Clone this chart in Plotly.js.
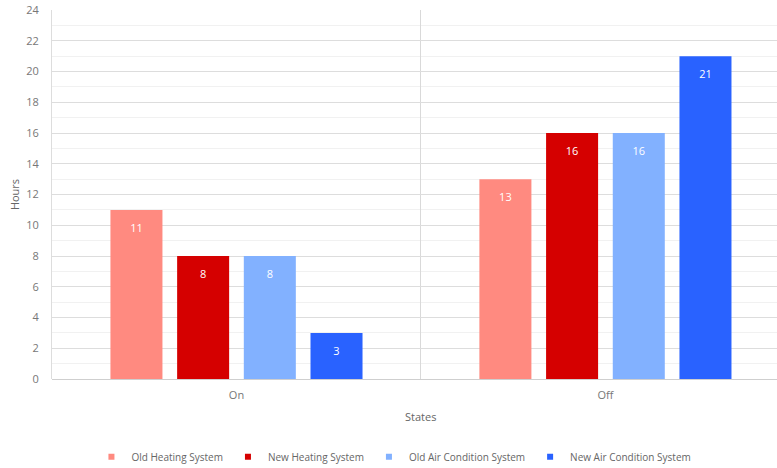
<!DOCTYPE html>
<html>
<head>
<meta charset="utf-8">
<script src="https://cdn.plot.ly/plotly-3.0.1.min.js"></script>
<style>
  html, body { margin: 0; padding: 0; background: #ffffff; overflow: hidden; }
  #chart { width: 777px; height: 468px; }
</style>
</head>
<body>
<div id="chart"></div>
<script>
// Hours spent in each state, per system
const states = ['On', 'Off'];
const seriesNames = ['Old Heating System', 'New Heating System', 'Old Air Condition System', 'New Air Condition System'];
const oldHeating = [11, 13];
const newHeating = [8, 16];
const oldAirCondition = [8, 16];
const newAirCondition = [3, 21];
const seriesColors = ['#ff8a80', '#d50000', '#82b1ff', '#2962ff'];

const seriesValues = [oldHeating, newHeating, oldAirCondition, newAirCondition];

const labelFont = { family: 'Open Sans, sans-serif', size: 11, color: '#ffffff' };
const axisFont = { family: 'Open Sans, sans-serif', size: 11, color: '#777777' };

// a tiny blank first line gives the value labels some room below the bar top
const labelTemplate = '<span style="font-size:5px">&nbsp;</span><br>%{y}';

const barTraces = seriesValues.map((vals, i) => ({
  type: 'bar',
  name: seriesNames[i],
  legendgroup: seriesNames[i],
  showlegend: false,
  x: states,
  y: vals,
  marker: { color: seriesColors[i] },
  texttemplate: labelTemplate,
  textposition: 'inside',
  insidetextanchor: 'end',
  textfont: labelFont,
  hoverinfo: 'x+y+name'
}));

// small square swatches for the legend
const legendTraces = seriesNames.map((name, i) => ({
  type: 'scatter',
  mode: 'markers',
  name: name,
  legendgroup: name,
  x: [null],
  y: [null],
  marker: { symbol: 'square', size: 6, color: seriesColors[i] },
  hoverinfo: 'skip'
}));

const layout = {
  width: 777,
  height: 468,
  margin: { l: 52, r: 0, t: 10, b: 89 },
  paper_bgcolor: '#ffffff',
  plot_bgcolor: '#ffffff',
  barmode: 'group',
  bargap: 0.277,
  bargroupgap: 0.22,
  font: axisFont,
  xaxis: {
    type: 'category',
    range: [-0.5, 1.465],
    tickson: 'boundaries',
    showgrid: true,
    gridcolor: '#d9d9d9',
    ticks: '',
    tickfont: axisFont,
    ticklabelstandoff: 8,
    showline: false,
    zeroline: false
  },
  yaxis: {
    range: [0, 24],
    dtick: 2,
    showgrid: true,
    gridcolor: '#dddddd',
    minor: { dtick: 1, showgrid: true, gridcolor: '#f1f1f1' },
    zeroline: true,
    zerolinecolor: '#cfcfcf',
    showline: true,
    linecolor: '#dddddd',
    ticks: '',
    tickfont: axisFont,
    ticklabelstandoff: 10,
    title: { text: 'Hours', font: { family: 'Open Sans, sans-serif', size: 11, color: '#666666' }, standoff: 4 }
  },
  annotations: [{
    xref: 'x', yref: 'paper',
    x: 0.5, y: 0,
    yshift: -37,
    text: 'States',
    showarrow: false,
    font: { family: 'Open Sans, sans-serif', size: 11, color: '#666666' },
    xanchor: 'center', yanchor: 'middle'
  }],
  showlegend: true,
  legend: {
    orientation: 'h',
    xref: 'container', yref: 'container',
    x: 0.507, xanchor: 'center',
    y: 0.024, yanchor: 'middle',
    font: { family: 'Open Sans, sans-serif', size: 10, color: '#666666' },
    itemclick: false,
    traceorder: 'normal'
  }
};

Plotly.newPlot('chart', barTraces.concat(legendTraces), layout, { displayModeBar: false });
</script>
</body>
</html>
